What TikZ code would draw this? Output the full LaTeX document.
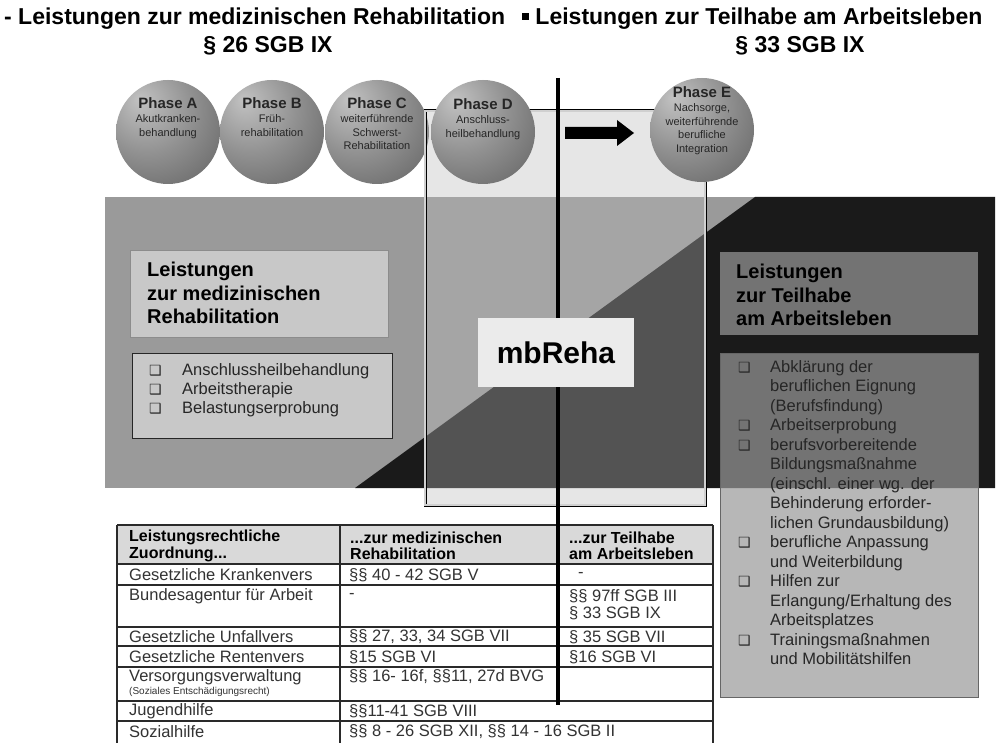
\documentclass[tikz,border=0pt]{standalone}
\usepackage{fontspec}
\setmainfont{Liberation Sans}
\newfontfamily\symfont{DejaVu Sans}
\definecolor{bandlight}{HTML}{9A9A9A}
\definecolor{banddark}{HTML}{1A1A1A}
\definecolor{framefill}{HTML}{BABABA}
\definecolor{framecore}{HTML}{D0D0D0}
\definecolor{ballhi}{HTML}{C2C2C2}
\definecolor{ballmid}{HTML}{919191}
\definecolor{balllo}{HTML}{4E4E4E}
\definecolor{lboxfill}{HTML}{C8C8C8}
\definecolor{rboxfill}{HTML}{999999}
\definecolor{mbfill}{HTML}{EBEBEB}
\definecolor{headfill}{HTML}{D9D9D9}
\definecolor{tline}{HTML}{2A2A2A}
\pgfdeclareradialshading{phaseball}{\pgfpoint{-14bp}{16bp}}{color(0bp)=(ballhi);color(22bp)=(ballmid);color(55bp)=(balllo);color(80bp)=(balllo)}
\newcommand{\cbx}{{\symfont\fontsize{14}{14}\selectfont ❑}}
\begin{document}
\begin{tikzpicture}[x=1pt,y=-1pt,
  title/.style={font=\bfseries\fontsize{23}{25}\selectfont, inner sep=0pt},
  phase/.style={circle, minimum size=104pt, inner sep=0pt, shading=phaseball},
  ptext/.style={align=center, inner sep=0pt, anchor=north, text=black!85, font=\fontsize{11}{13.5}\selectfont},
  lbox/.style={fill=lboxfill, inner sep=0pt, anchor=north west},
  rbox/.style={fill=rboxfill, fill opacity=0.7, text opacity=1, inner sep=0pt, anchor=north west},
  hd/.style={font=\bfseries\fontsize{20}{23.5}\selectfont, align=left, inner sep=0pt, anchor=north west},
  lst/.style={font=\fontsize{16.5}{19.5}\selectfont, align=left, inner sep=0pt, anchor=north west, text=black!85},
  cell/.style={font=\fontsize{16.5}{17.5}\selectfont, inner sep=0pt, anchor=west, text=black!80, align=left},
  hcell/.style={font=\bfseries\fontsize{16}{16.5}\selectfont, inner sep=0pt, anchor=west, align=left},
  tl/.style={draw=tline, line width=1.1pt}
]
\useasboundingbox[fill=white] (0,0) rectangle (1007,743);

% band
\fill[bandlight] (105,197) rectangle (995,488);
\fill[banddark] (355,488) -- (755,197) -- (995,197) -- (995,488) -- cycle;

% circles A-C
\node[phase] (pA) at (168,132) {};
\node[phase] (pB) at (272,132) {};
\node[phase] (pC) at (377,132) {};
\node[ptext] (pAt) at (168,97) {{\bfseries\fontsize{15}{16}\selectfont Phase A}\\[1pt]Akutkranken-\\behandlung};
\node[ptext] (pBt) at (272,97) {{\bfseries\fontsize{15}{16}\selectfont Phase B}\\[1pt]Früh-\\rehabilitation};
\node[ptext] (pCt) at (377,97) {{\bfseries\fontsize{15}{16}\selectfont Phase C}\\[1pt]weiterführende\\Schwerst-\\Rehabilitation};

% frame
\node[draw=black, double=framecore, double distance=1.6pt, line width=0.7pt, fill=framefill, fill opacity=0.36, minimum width=280pt, minimum height=394pt, inner sep=0pt] (frame) at (565,308) {};

% circles D, E
\node[phase] (pD) at (483,132) {};
\node[phase] (pE) at (702,130) {};
\node[ptext] (pDt) at (483,98) {{\bfseries\fontsize{15}{16}\selectfont Phase D}\\[1pt]Anschluss-\\heilbehandlung};
\node[ptext] (pEt) at (702,86) {{\bfseries\fontsize{15}{16}\selectfont Phase E}\\[1pt]Nachsorge,\\weiterführende\\berufliche\\Integration};

% arrow
\fill[black] (565,127) -- (617,127) -- (617,120) -- (634,133) -- (617,146) -- (617,139) -- (565,139) -- cycle;

% left boxes
\node[lbox, draw=black!45, line width=0.8pt, minimum width=258pt, minimum height=87pt] (lt) at (130,250) {};
\node[hd] (ltt) at (147,262) {Leistungen\\zur medizinischen\\Rehabilitation};
\node[lbox, draw=black!85, line width=1pt, minimum width=260pt, minimum height=85pt] (ll) at (132,353) {};
\node[lst, font=\fontsize{16.5}{19}\selectfont] (llt) at (149,363) {\makebox[33pt][l]{\cbx}Anschlussheilbehandlung\\\makebox[33pt][l]{\cbx}Arbeitstherapie\\\makebox[33pt][l]{\cbx}Belastungserprobung};

% right boxes
\node[rbox, minimum width=258pt, minimum height=83pt] (rt) at (720,252) {};
\node[hd] (rtt) at (736,264) {Leistungen\\zur Teilhabe\\am Arbeitsleben};
\node[rbox, draw=black!60, line width=0.8pt, minimum width=258pt, minimum height=344pt] (rl) at (720,353) {};
\node[lst] (rlt) at (738,360) {\makebox[32pt][l]{\cbx}Abklärung der\\
\hspace*{32pt}beruflichen Eignung\\
\hspace*{32pt}(Berufsfindung)\\
\makebox[32pt][l]{\cbx}Arbeitserprobung\\
\makebox[32pt][l]{\cbx}berufsvorbereitende\\
\hspace*{32pt}Bildungsmaßnahme\\
\hspace*{32pt}(einschl. einer wg. der\\
\hspace*{32pt}Behinderung erforder-\\
\hspace*{32pt}lichen Grundausbildung)\\
\makebox[32pt][l]{\cbx}berufliche Anpassung\\
\hspace*{32pt}und Weiterbildung\\
\makebox[32pt][l]{\cbx}Hilfen zur\\
\hspace*{32pt}Erlangung/Erhaltung des\\
\hspace*{32pt}Arbeitsplatzes\\
\makebox[32pt][l]{\cbx}Trainingsmaßnahmen\\
\hspace*{32pt}und Mobilitätshilfen};

% table
\fill[headfill] (117,525) rectangle (713,564);
\foreach \yy in {525,564,585,627,646,667,701,721} \draw[tl] (117,\yy) -- (713,\yy);
\draw[tl] (117,525) -- (117,743);
\draw[tl] (340,525) -- (340,743);
\draw[tl] (713,525) -- (713,743);

% central line
\coordinate (ltop) at (558,78);
\coordinate (lbot) at (558,705);
\draw[line width=4pt] (ltop) -- (lbot);

% mbReha
\node[fill=mbfill, minimum width=156pt, minimum height=69pt, font=\bfseries\fontsize{30}{30}\selectfont, inner sep=0pt] (mb) at (556,352.5) {mbReha};

% table texts
\node[hcell] (h1) at (129,546) {Leistungsrechtliche\\Zuordnung...};
\node[hcell] (h2) at (350,546) {...zur medizinischen\\Rehabilitation};
\node[hcell] (h3) at (569,546) {...zur Teilhabe\\am Arbeitsleben};
\node[cell] (c11) at (129,575) {Gesetzliche Krankenvers};
\node[cell] (c12) at (349,575) {§§ 40 - 42 SGB V};
\node[cell] (c13) at (578,575) {-};
\node[cell] (c21) at (129,596) {Bundesagentur für Arbeit};
\node[cell] (c22) at (349,596) {-};
\node[cell, font=\fontsize{16.5}{17}\selectfont] (c23) at (569,605) {§§ 97ff SGB III\\§ 33 SGB IX};
\node[cell] (c31) at (129,637) {Gesetzliche Unfallvers};
\node[cell] (c32) at (349,637) {§§ 27, 33, 34 SGB VII};
\node[cell] (c33) at (569,637) {§ 35 SGB VII};
\node[cell] (c41) at (129,657) {Gesetzliche Rentenvers};
\node[cell] (c42) at (349,657) {§15 SGB VI};
\node[cell] (c43) at (569,657) {§16 SGB VI};
\node[cell] (c51) at (129,677) {Versorgungsverwaltung};
\node[cell, font=\fontsize{10}{11}\selectfont] (c51b) at (129,692) {(Soziales Entschädigungsrecht)};
\node[cell] (c52) at (349,677) {§§ 16- 16f, §§11, 27d BVG};
\node[cell] (c61) at (129,711) {Jugendhilfe};
\node[cell] (c62) at (349,711) {§§11-41 SGB VIII};
\node[cell] (c71) at (129,732) {Sozialhilfe};
\node[cell] (c72) at (349,732) {§§ 8 - 26 SGB XII, §§ 14 - 16 SGB II};

% titles
\node[title, anchor=west] (t1) at (4,19) {- Leistungen zur medizinischen Rehabilitation};
\node[title] (t1s) at (268,46) {§ 26 SGB IX};
\node[title, anchor=west] (t2) at (522,19) {\rule[0.22em]{0.3em}{0.28em} Leistungen zur Teilhabe am Arbeitsleben};
\node[title] (t2s) at (800,46) {§ 33 SGB IX};
\end{tikzpicture}
\end{document}
